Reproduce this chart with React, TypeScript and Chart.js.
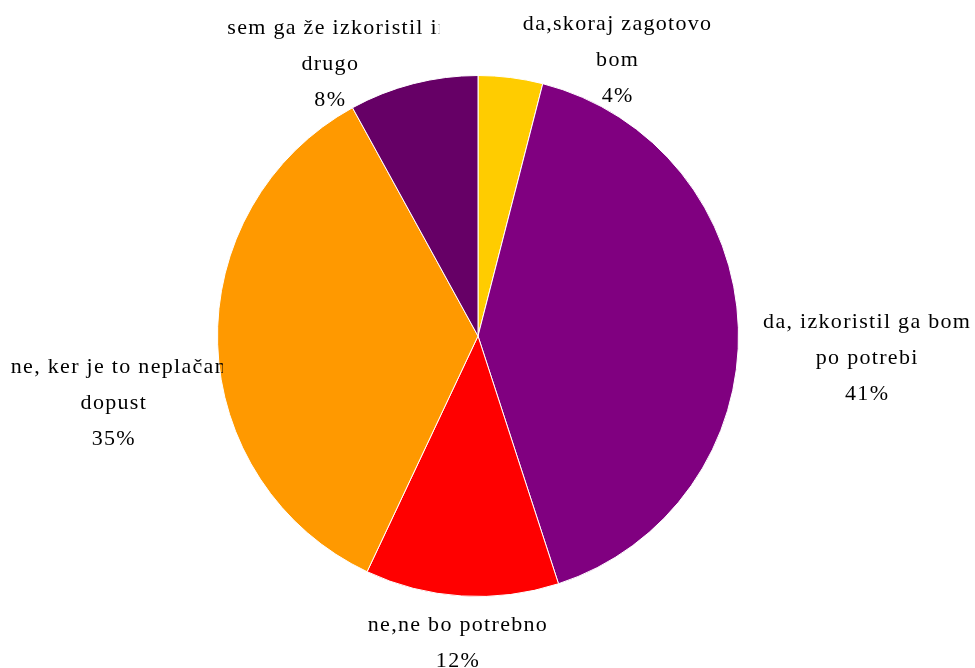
import React, { useEffect, useRef } from "react";
import { Chart, registerables } from "chart.js";

Chart.register(...registerables);

const categories: string[] = [
  "da,skoraj zagotovo bom",
  "da, izkoristil ga bom po potrebi",
  "ne,ne bo potrebno",
  "ne, ker je to neplačan dopust",
  "sem ga že izkoristil in drugo",
];
const categoryLines: string[][] = [
  ["da,skoraj zagotovo", "bom"],
  ["da, izkoristil ga bom", "po potrebi"],
  ["ne,ne bo potrebno"],
  ["ne, ker je to neplačan", "dopust"],
  ["sem ga že izkoristil in", "drugo"],
];
const values: number[] = [4, 41, 12, 35, 8];
const colors: string[] = ["#FFCC00", "#800080", "#FF0000", "#FF9900", "#660066"];

// label box centre, relative to pie centre in units of radius
const labelAnchors: [number, number][] = [
  [0.536, -1.057],
  [1.494, 0.084],
  [-0.077, 1.178],
  [-1.398, 0.257],
  [-0.567, -1.042],
];

const FONT = "22px 'Liberation Serif', serif";
const LINE_H = 36;
const BOX_W = 218;

const labelPlugin = {
  id: "pieLabels",
  afterDatasetsDraw(chart: any) {
    const meta = chart.getDatasetMeta(0);
    const arc0 = meta.data[0];
    if (!arc0) return;
    const cx = arc0.x;
    const cy = arc0.y;
    const R = arc0.outerRadius;
    const total = values.reduce((a, b) => a + b, 0);
    const ctx = chart.ctx as CanvasRenderingContext2D;
    ctx.save();
    ctx.font = FONT;
    (ctx as any).letterSpacing = "1.3px";
    ctx.fillStyle = "#000000";
    ctx.textBaseline = "middle";
    values.forEach((v, i) => {
      const lines = [...categoryLines[i], Math.round((v / total) * 100) + "%"];
      const [fx, fy] = labelAnchors[i];
      const lx = cx + fx * R;
      const ly = cy + fy * R;
      const n = lines.length;
      const top = ly - (n * LINE_H) / 2;
      const left = lx - BOX_W / 2;
      ctx.save();
      ctx.beginPath();
      ctx.rect(left, top - 10, BOX_W, n * LINE_H + 20);
      ctx.clip();
      lines.forEach((t, j) => {
        const y = top + LINE_H * (j + 0.5);
        const w = ctx.measureText(t).width;
        if (w > BOX_W - 8) {
          ctx.textAlign = "left";
          ctx.fillText(t, left + 6, y);
        } else {
          ctx.textAlign = "center";
          ctx.fillText(t, lx, y);
        }
      });
      ctx.restore();
    });
    ctx.restore();
  },
};

export default function App() {
  const ref = useRef<HTMLCanvasElement | null>(null);
  useEffect(() => {
    document.body.style.margin = "0";
    if (!ref.current) return;
    const chart = new Chart(ref.current, {
      type: "pie",
      data: {
        labels: categories,
        datasets: [
          {
            data: values,
            backgroundColor: colors,
            borderColor: "#FFFFFF",
            borderWidth: 1,
            hoverOffset: 0,
          },
        ],
      },
      options: {
        responsive: false,
        animation: false,
        layout: { padding: { top: 75, bottom: 71, left: 217, right: 236 } },
        plugins: {
          legend: { display: false },
          tooltip: { enabled: false },
        },
      },
      plugins: [labelPlugin],
    });
    return () => chart.destroy();
  }, []);
  return (
    <div style={{ width: 975, height: 668, background: "#FFFFFF" }}>
      <canvas ref={ref} width={975} height={668} />
    </div>
  );
}
